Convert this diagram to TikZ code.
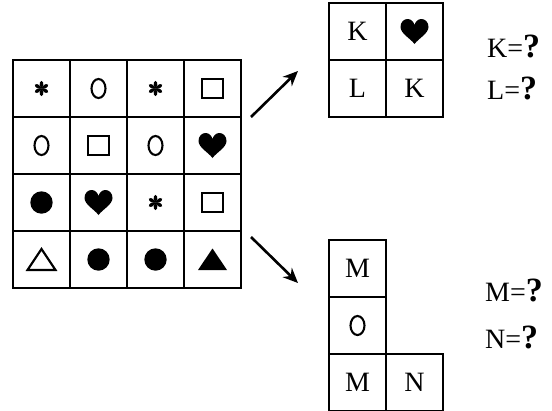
\documentclass[tikz,border=0pt]{standalone}
\usepackage{fontspec}
\setmainfont{Liberation Serif}
\usetikzlibrary{arrows.meta}

\begin{document}
\begin{tikzpicture}[
  x=1pt, y=-1pt,
  cell/.style={draw, line width=2.6pt, minimum size=57pt, inner sep=0pt, outer sep=0pt,
    font=\fontsize{28}{28}\selectfont},
  lbl/.style={anchor=west, inner sep=0pt, font=\fontsize{28}{28}\selectfont},
  arr/.style={-{Stealth[length=15pt, width=13pt]}, line width=2.6pt},
  sym/.style={line width=2.1pt},
  star/.pic={\foreach \a in {90,150,...,390}
      \fill[rotate=\a] (0,0) .. controls (2,1.8) and (6.4,3) .. (7.6,0)
        .. controls (6.4,-3) and (2,-1.8) .. (0,0);},
  oval/.pic={\draw[sym] (0,0) ellipse (7 and 9.5);},
  sqbox/.pic={\draw[sym] (-10.5,-9.5) rectangle (10.5,9.5);},
  dot/.pic={\fill (0,0) circle (11.2);},
  tri/.pic={\draw[sym, line join=miter] (-14,10.5) -- (14,10.5) -- (0,-10.5) -- cycle;},
  filltri/.pic={\fill (-14.5,10.5) -- (14.5,10.5) -- (0,-11) -- cycle;},
  heart/.pic={\fill (0,12.5) .. controls (-4,7) and (-14,2) .. (-14,-4.5)
      .. controls (-14,-9.5) and (-10.5,-12.5) .. (-7,-12.5)
      .. controls (-3.5,-12.5) and (-1,-10) .. (0,-6.5)
      .. controls (1,-10) and (3.5,-12.5) .. (7,-12.5)
      .. controls (10.5,-12.5) and (14,-9.5) .. (14,-4.5)
      .. controls (14,2) and (4,7) .. (0,12.5) -- cycle;}
]
\useasboundingbox (0,0) rectangle (552,410);

% big 4x4 grid
\foreach \r in {1,...,4}
  \foreach \c in {1,...,4}
    \node[cell] (g\r\c) at ({13+57*(\c-0.5)},{60+57*(\r-0.5)}) {};
\pic at (g11) {star};  \pic at (g12) {oval}; \pic at (g13) {star};  \pic at (g14) {sqbox};
\pic at (g21) {oval};  \pic at (g22) {sqbox}; \pic at (g23) {oval}; \pic at (g24) {heart};
\pic at (g31) {dot};   \pic at (g32) {heart}; \pic at (g33) {star}; \pic at (g34) {sqbox};
\pic at (g41) {tri};   \pic at (g42) {dot};   \pic at (g43) {dot};  \pic at (g44) {filltri};

% top piece: K, heart, L, K
\node[cell] (ka) at (357.5,31.5) {K};
\node[cell] (kh) at (414.5,31.5) {};
\node[cell] (la) at (357.5,88.5) {L};
\node[cell] (kb) at (414.5,88.5) {K};
\pic at (kh) {heart};
\node[lbl] (kq) at (487,46) {K={\fontsize{34}{34}\selectfont\bfseries ?}};
\node[lbl] (lq) at (487,88) {L={\fontsize{34}{34}\selectfont\bfseries ?}};

% bottom piece: M, 0, M, N
\node[cell] (ma) at (357.5,268.5) {M};
\node[cell] (oa) at (357.5,325.5) {};
\node[cell] (mb) at (357.5,382.5) {M};
\node[cell] (na) at (414.5,382.5) {N};
\pic at (oa) {oval};
\node[lbl] (mq) at (485,290) {M={\fontsize{34}{34}\selectfont\bfseries ?}};
\node[lbl] (nq) at (485,337) {N={\fontsize{34}{34}\selectfont\bfseries ?}};

% arrows
\coordinate (up0) at (251,117);
\coordinate (up1) at (298,71);
\coordinate (dn0) at (251,237);
\coordinate (dn1) at (298,283);
\draw[arr] (up0) -- (up1);
\draw[arr] (dn0) -- (dn1);

\end{tikzpicture}
\end{document}
